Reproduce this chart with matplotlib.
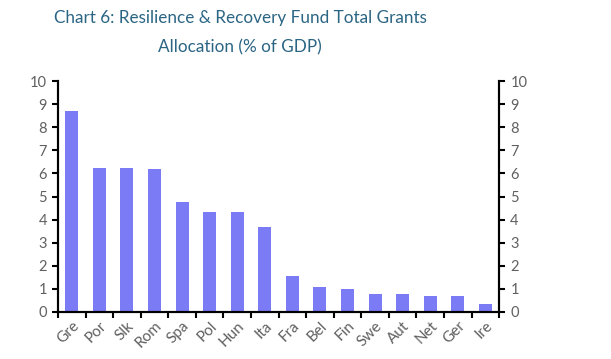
import matplotlib
matplotlib.use('Agg')
import matplotlib.pyplot as plt
import numpy as np
from matplotlib.ticker import FixedLocator

countries = ['Gre', 'Por', 'Slk', 'Rom', 'Spa', 'Pol', 'Hun', 'Ita',
             'Fra', 'Bel', 'Fin', 'Swe', 'Aut', 'Net', 'Ger', 'Ire']
grants_pct_gdp = [8.7, 6.25, 6.25, 6.2, 4.75, 4.35, 4.35, 3.7,
                  1.55, 1.1, 1.0, 0.8, 0.8, 0.7, 0.7, 0.35]
y_ticks = list(range(0, 11))

plt.rcParams['font.family'] = ['Lato', 'DejaVu Sans']

fig = plt.figure(figsize=(6.11, 3.59), dpi=100)
ax = fig.add_axes([0.095, 0.131, 0.722, 0.643])

x = np.arange(len(countries))
ax.bar(x, grants_pct_gdp, width=0.47, color='#7b7bf5')

ax.set_xlim(-0.5, len(countries) - 0.5)
ax.set_ylim(0, 10)

# ticks on the y axes
ax.set_yticks(y_ticks)
ax.tick_params(axis='y', direction='out', length=4, width=1.5,
               labelsize=10.5, labelcolor='#606060', pad=4)
ax2 = ax.twinx()
ax2.set_ylim(0, 10)
ax2.set_yticks(y_ticks)
ax2.tick_params(axis='y', direction='out', length=4, width=1.5,
                labelsize=10.5, labelcolor='#606060', pad=4)

# x ticks between categories, labels at category centres
ax.xaxis.set_major_locator(FixedLocator(np.arange(-0.5, len(countries), 1.0)))
ax.xaxis.set_major_formatter(plt.NullFormatter())
ax.xaxis.set_minor_locator(FixedLocator(x))
ax.set_xticklabels(countries, minor=True, rotation=45, ha='right',
                   rotation_mode='anchor', fontsize=11, color='#606060')
ax.tick_params(axis='x', which='major', direction='out', length=4, width=1.5)
ax.tick_params(axis='x', which='minor', length=0, pad=5)

for a in (ax, ax2):
    a.spines['top'].set_visible(False)
    for s in ('left', 'right', 'bottom'):
        a.spines[s].set_linewidth(1.5)

fig.text(0.393, 0.95, 'Chart 6: Resilience & Recovery Fund Total Grants',
         ha='center', va='center', fontsize=12.3, color='#2b6584')
fig.text(0.393, 0.868, 'Allocation (% of GDP)',
         ha='center', va='center', fontsize=12.3, color='#2b6584')

fig.savefig('out.png', dpi=100)
